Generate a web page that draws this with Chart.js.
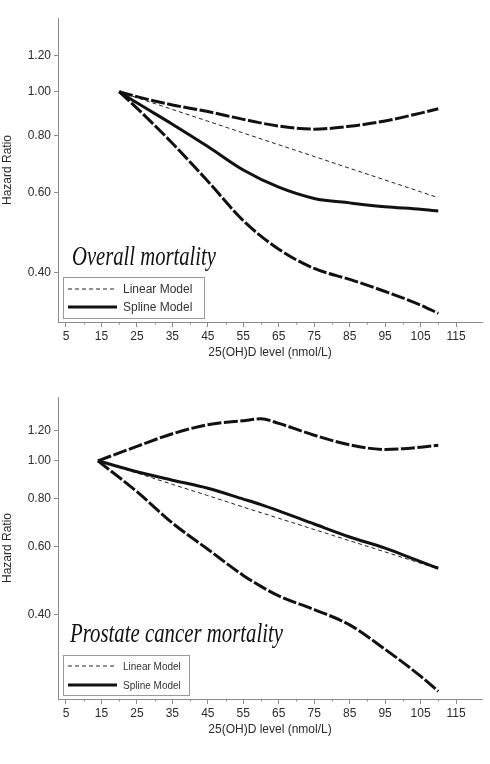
<!DOCTYPE html>
<html>
<head>
<meta charset="utf-8">
<title>Hazard ratio by 25(OH)D level</title>
<script src="https://cdn.jsdelivr.net/npm/chart.js@4.4.1/dist/chart.umd.min.js"></script>
<style>
    html, body { margin: 0; padding: 0; background: #fff; }
    #wrap { position: relative; width: 490px; height: 764px; }
    canvas { position: absolute; left: 0; }
    #overall { top: 0; }
    #prostate { top: 382px; }
</style>
</head>
<body>
<div id="wrap">
    <canvas id="overall" width="490" height="382"></canvas>
    <canvas id="prostate" width="490" height="382"></canvas>
</div>
<script>
// Overall mortality (upper panel)
var overallX      = [20, 25, 35, 45, 55, 65, 75, 85, 95, 105, 110];
var overallUpper  = [1.00, 0.975, 0.935, 0.904, 0.869, 0.840, 0.827, 0.839, 0.862, 0.897, 0.917];
var overallSpline = [1.00, 0.945, 0.848, 0.757, 0.672, 0.616, 0.582, 0.569, 0.558, 0.551, 0.546];
var overallLinear = [1.00, 0.970, 0.914, 0.861, 0.811, 0.764, 0.720, 0.678, 0.639, 0.602, 0.584];
var overallLower  = [1.00, 0.920, 0.770, 0.635, 0.520, 0.450, 0.408, 0.386, 0.363, 0.339, 0.325];

// Prostate cancer mortality (lower panel)
var prostateX      = [14, 25, 35, 45, 55, 60, 65, 75, 85, 95, 105, 110];
var prostateUpper  = [1.00, 1.090, 1.175, 1.240, 1.270, 1.285, 1.250, 1.165, 1.100, 1.070, 1.085, 1.098];
var prostateSpline = [1.00, 0.937, 0.891, 0.849, 0.796, 0.770, 0.742, 0.686, 0.635, 0.594, 0.548, 0.527];
var prostateLinear = [1.00, 0.930, 0.869, 0.813, 0.759, 0.734, 0.710, 0.664, 0.621, 0.581, 0.543, 0.525];
var prostateLower  = [1.00, 0.832, 0.690, 0.590, 0.505, 0.473, 0.447, 0.412, 0.376, 0.325, 0.277, 0.253];

// axis ticks
var yTicks = [0.40, 0.60, 0.80, 1.00, 1.20];
var xTicks = [5, 15, 25, 35, 45, 55, 65, 75, 85, 95, 105, 115];
var xMinorTicks = [10, 20, 30, 40, 50, 60, 70, 80, 90, 100, 110];

var AXIS_GREY = "#8c8c8c";
var TEXT = "#2b2b2b";

function pairs(xs, ys) {
    return xs.map(function (x, i) { return { x: x, y: ys[i] }; });
}

// minor x ticks, title text and boxed legend
var panelDecor = {
    id: "panelDecor",
    afterDraw: function (chart, args, opts) {
        var ctx = chart.ctx;
        var area = chart.chartArea;
        var xs = chart.scales.x;

        // minor ticks on x axis
        ctx.save();
        ctx.strokeStyle = AXIS_GREY;
        ctx.lineWidth = 1;
        xMinorTicks.forEach(function (v) {
            var px = Math.round(xs.getPixelForValue(v)) + 0.5;
            ctx.beginPath();
            ctx.moveTo(px, area.bottom);
            ctx.lineTo(px, area.bottom + 2.5);
            ctx.stroke();
        });
        ctx.restore();

        // handwritten-looking panel title
        ctx.save();
        ctx.font = "italic 28px 'Liberation Serif', 'DejaVu Serif', serif";
        ctx.fillStyle = "#111";
        ctx.textBaseline = "alphabetic";
        var w = ctx.measureText(opts.title).width;
        ctx.translate(area.left + opts.titleX, area.top + opts.titleY);
        ctx.scale(opts.titleWidth / w, 1);
        ctx.fillText(opts.title, 0, 0);
        ctx.restore();

        // legend box
        var bx = area.left + 5;
        var by = area.bottom - 4 - opts.boxH;
        ctx.save();
        ctx.strokeStyle = "#9a9a9a";
        ctx.lineWidth = 1;
        ctx.strokeRect(Math.round(bx) + 0.5, Math.round(by) + 0.5, opts.boxW, opts.boxH);
        ctx.font = opts.legendFont + "px 'Liberation Sans', Arial, sans-serif";
        ctx.fillStyle = "#333";
        ctx.textBaseline = "middle";
        ["Linear Model", "Spline Model"].forEach(function (name, i) {
            var ds = chart.data.datasets.filter(function (d) { return d.label === name; })[0];
            var ly = by + opts.rowY[i];
            ctx.beginPath();
            ctx.setLineDash(ds.borderDash || []);
            ctx.lineWidth = ds.borderWidth;
            ctx.strokeStyle = ds.borderColor;
            ctx.moveTo(bx + 5, ly);
            ctx.lineTo(bx + 54, ly);
            ctx.stroke();
            ctx.setLineDash([]);
            ctx.fillText(name, bx + 60, ly + 1);
        });
        ctx.restore();
    }
};

function makePanel(canvasId, xs, upper, spline, linear, lower, cfg) {
    var ciStyle = {
        borderColor: "#111",
        borderWidth: 3,
        borderDash: [14, 2.5],
        pointRadius: 0,
        fill: false,
        cubicInterpolationMode: "monotone"
    };
    var datasets = [
        Object.assign({ label: "Upper CI", data: pairs(xs, upper) }, ciStyle),
        {
            label: "Spline Model",
            data: pairs(xs, spline),
            borderColor: "#111",
            borderWidth: 3,
            pointRadius: 0,
            cubicInterpolationMode: "monotone"
        },
        {
            label: "Linear Model",
            data: pairs(xs, linear),
            borderColor: "#222",
            borderWidth: 1,
            borderDash: [4, 3],
            pointRadius: 0
        },
        Object.assign({ label: "Lower CI", data: pairs(xs, lower) }, ciStyle)
    ];

    return new Chart(document.getElementById(canvasId).getContext("2d"), {
        type: "line",
        data: { datasets: datasets },
        plugins: [panelDecor],
        options: {
            responsive: false,
            animation: false,
            layout: { padding: { top: cfg.top, right: 8, left: 0, bottom: 0 } },
            plugins: {
                legend: { display: false },
                tooltip: { enabled: false },
                panelDecor: cfg.decor
            },
            scales: {
                x: {
                    type: "linear",
                    bounds: "data",
                    min: 2.744,
                    max: 122.33,
                    afterBuildTicks: function (scale) {
                        scale.ticks = xTicks.map(function (v) { return { value: v }; });
                    },
                    afterFit: function (scale) { scale.height = cfg.xHeight; },
                    grid: {
                        drawOnChartArea: false,
                        drawTicks: true,
                        tickLength: 5,
                        tickColor: AXIS_GREY
                    },
                    border: { display: true, color: AXIS_GREY, width: 1 },
                    ticks: {
                        autoSkip: false,
                        maxRotation: 0,
                        padding: 2,
                        color: TEXT,
                        font: { family: "'Liberation Sans', Arial, sans-serif", size: 12 },
                        callback: function (v) { return String(v); }
                    },
                    title: {
                        display: true,
                        text: "25(OH)D level (nmol/L)",
                        color: TEXT,
                        padding: { top: 0, bottom: cfg.xTitlePad },
                        font: { family: "'Liberation Sans', Arial, sans-serif", size: 12 }
                    }
                },
                y: {
                    type: "logarithmic",
                    bounds: "data",
                    min: cfg.yMin,
                    max: cfg.yMax,
                    afterBuildTicks: function (scale) {
                        scale.ticks = yTicks.map(function (v) { return { value: v }; });
                    },
                    afterFit: function (scale) { scale.width = 58; },
                    grid: {
                        drawOnChartArea: false,
                        drawTicks: true,
                        tickLength: 4,
                        tickColor: AXIS_GREY
                    },
                    border: { display: true, color: AXIS_GREY, width: 1 },
                    ticks: {
                        autoSkip: false,
                        padding: 3,
                        color: TEXT,
                        font: { family: "'Liberation Sans', Arial, sans-serif", size: 12 },
                        callback: function (v) { return Number(v).toFixed(2); }
                    },
                    title: {
                        display: true,
                        text: "Hazard Ratio",
                        color: TEXT,
                        padding: { top: 0, bottom: 0 },
                        font: { family: "'Liberation Sans', Arial, sans-serif", size: 12 }
                    }
                }
            }
        }
    });
}

makePanel("overall", overallX, overallUpper, overallSpline, overallLinear, overallLower, {
    top: 18,
    xHeight: 60,
    xTitlePad: 22,
    yMin: 0.311,
    yMax: 1.453,
    decor: {
        title: "Overall mortality",
        titleX: 14, titleY: 247, titleWidth: 144,
        boxW: 141, boxH: 41, rowY: [12, 30], legendFont: 12
    }
});

makePanel("prostate", prostateX, prostateUpper, prostateSpline, prostateLinear, prostateLower, {
    top: 15,
    xHeight: 65,
    xTitlePad: 27,
    yMin: 0.2417,
    yMax: 1.463,
    decor: {
        title: "Prostate cancer mortality",
        titleX: 12, titleY: 245, titleWidth: 213,
        boxW: 126, boxH: 40, rowY: [11, 30], legendFont: 10
    }
});
</script>
</body>
</html>
